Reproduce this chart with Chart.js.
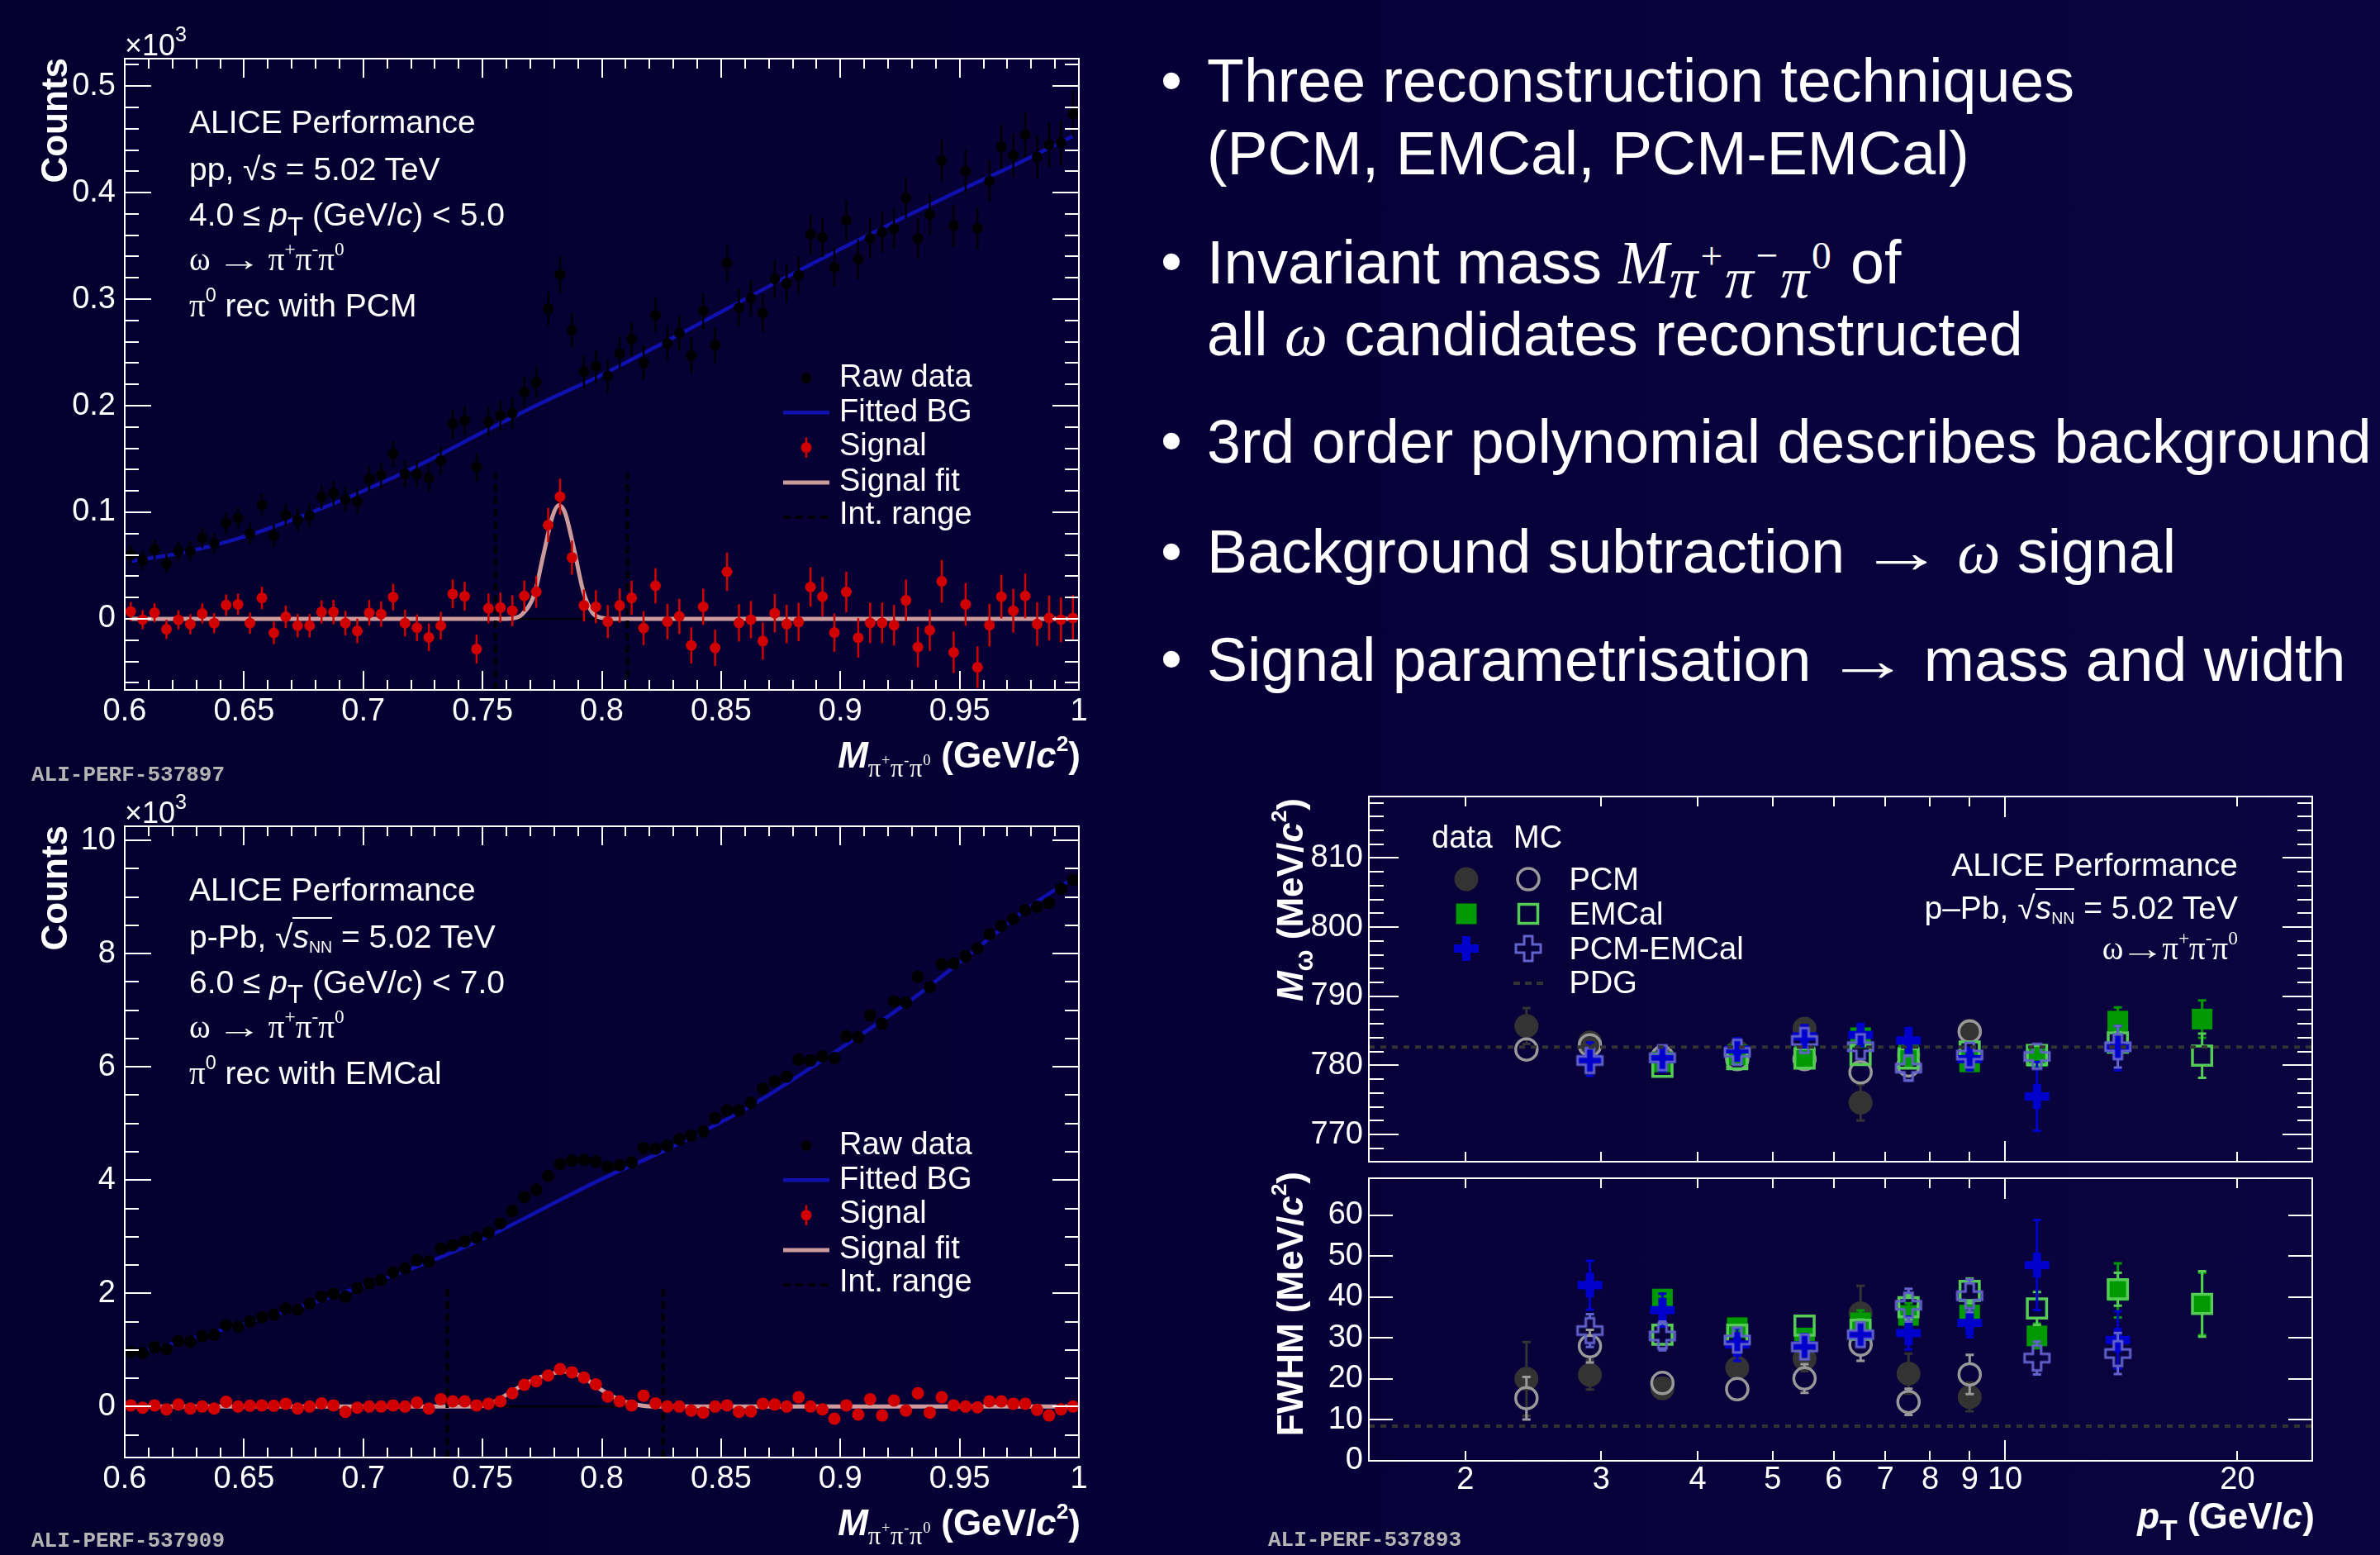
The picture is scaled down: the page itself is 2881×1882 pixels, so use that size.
<!DOCTYPE html>
<html>
<head>
<meta charset="utf-8">
<title>ALICE omega meson performance</title>
<script src="https://cdn.jsdelivr.net/npm/chart.js"></script>
<style>
html,body{margin:0;padding:0;}
body{width:2881px;height:1882px;overflow:hidden;background:#060033;}
#root{position:absolute;left:0;top:0;width:2881px;height:1882px;overflow:hidden;
 background:linear-gradient(to right,#04002e 0%,#070037 50%,#0a0440 100%);
 font-family:'Liberation Sans',Arial,Helvetica,sans-serif;color:#fff;}
.box{position:absolute;}
.t{position:absolute;white-space:nowrap;line-height:1;color:#fff;}
.sr{font-family:'Liberation Serif','Times New Roman',serif;}
.mi{font-family:'Liberation Serif','Times New Roman',serif;font-style:italic;}
.sp{font-size:0.6em;position:relative;top:-0.75em;line-height:0;font-style:normal;}
.sp3{font-size:0.7em;position:relative;top:-0.65em;line-height:0;}
.sb{font-size:0.8em;position:relative;top:0.4em;line-height:0;}
.ov{border-top:2px solid #fff;}
.nn{font-size:0.5em;position:relative;top:0.3em;line-height:0;}
.xs{font-size:0.7em;position:relative;top:0.35em;line-height:0;font-weight:normal;font-family:'Liberation Serif','Times New Roman',serif;letter-spacing:0.02em;}
.ms{font-size:0.95em;position:relative;top:0.25em;line-height:0;font-family:'Liberation Serif','Times New Roman',serif;font-style:italic;letter-spacing:0.04em;}
.ms .sp{font-size:0.68em;}
.arr{display:inline-block;transform:scaleX(1.4);margin:0 0.15em;font-family:'Liberation Serif','Times New Roman',serif;}
svg.ov2{position:absolute;left:0;top:0;}
</style>
</head>
<body>
<div id="root">
 <div class="box" style="left:0;top:0;width:1330px;height:940px"><canvas id="cPP" width="1330" height="940"></canvas></div>
 <div class="box" style="left:0;top:929px;width:1330px;height:940px"><canvas id="cPPb" width="1330" height="940"></canvas></div>
 <div class="box" style="left:1500px;top:940px;width:1381px;height:486px"><canvas id="cMass" width="1381" height="486"></canvas></div>
 <div class="box" style="left:1500px;top:1406px;width:1381px;height:476px"><canvas id="cWidth" width="1381" height="476"></canvas></div>
</div>
<script>
// ---------------- DATA ----------------
const massBins = [0.6025,0.6075,0.6125,0.6175,0.6225,0.6275,0.6325,0.6375,0.6425,0.6475,
 0.6525,0.6575,0.6625,0.6675,0.6725,0.6775,0.6825,0.6875,0.6925,0.6975,
 0.7025,0.7075,0.7125,0.7175,0.7225,0.7275,0.7325,0.7375,0.7425,0.7475,
 0.7525,0.7575,0.7625,0.7675,0.7725,0.7775,0.7825,0.7875,0.7925,0.7975,
 0.8025,0.8075,0.8125,0.8175,0.8225,0.8275,0.8325,0.8375,0.8425,0.8475,
 0.8525,0.8575,0.8625,0.8675,0.8725,0.8775,0.8825,0.8875,0.8925,0.8975,
 0.9025,0.9075,0.9125,0.9175,0.9225,0.9275,0.9325,0.9375,0.9425,0.9475,
 0.9525,0.9575,0.9625,0.9675,0.9725,0.9775,0.9825,0.9875,0.9925,0.9975];
const massTickLabels = [0.6,0.65,0.7,0.75,0.8,0.85,0.9,0.95,1];

// pp, PCM, 4 < pT < 5 (counts x 10^3)
const rawPP = [0.060,0.055,0.065,0.052,0.0635,0.0635,0.076,0.071,0.090,0.0945,
 0.080,0.107,0.078,0.0975,0.093,0.097,0.1145,0.118,0.112,0.110,
 0.1315,0.135,0.155,0.136,0.136,0.132,0.1485,0.183,0.186,0.1425,
 0.185,0.191,0.193,0.213,0.222,0.291,0.323,0.271,0.232,0.237,
 0.228,0.249,0.2625,0.2405,0.285,0.2585,0.268,0.247,0.289,0.257,
 0.334,0.292,0.301,0.287,0.319,0.315,0.3225,0.361,0.358,0.330,
 0.374,0.3375,0.357,0.363,0.366,0.395,0.357,0.3795,0.430,0.369,
 0.420,0.3665,0.411,0.443,0.435,0.4545,0.4335,0.445,0.447,0.474];
const sigPP = [0.0068,-0.0008,0.0057,-0.0098,-0.001,-0.005,0.005,-0.004,0.0129,0.0136,
 -0.004,0.0197,-0.0132,0.0019,-0.0064,-0.0064,0.0064,0.0064,-0.004,-0.0113,
 0.0057,0.0045,0.0204,-0.004,-0.0083,-0.0174,-0.0064,0.0234,0.0212,-0.0284,
 0.0098,0.0106,0.0076,0.0215,0.0253,0.088,0.1146,0.0575,0.0125,0.0113,
 -0.0026,0.0125,0.0197,-0.0087,0.031,-0.0026,0.0023,-0.025,0.0113,-0.0272,
 0.0442,-0.0038,-0.0008,-0.0208,0.0053,-0.0049,-0.003,0.0299,0.0208,-0.0129,
 0.0253,-0.0178,-0.0038,-0.0038,-0.006,0.0174,-0.0265,-0.0106,0.0352,-0.0314,
 0.0136,-0.0454,-0.006,0.0208,0.0076,0.0215,-0.0049,0.0008,-0.0008,0.0008];
const errPP = [0.009,0.009,0.009,0.009,0.009,0.0095,0.0095,0.0095,0.010,0.010,
 0.010,0.0105,0.0105,0.0105,0.011,0.011,0.011,0.0115,0.0115,0.0115,
 0.012,0.012,0.0125,0.0125,0.0125,0.013,0.013,0.0135,0.0135,0.0135,
 0.014,0.014,0.0145,0.0145,0.015,0.016,0.017,0.016,0.015,0.0155,
 0.0155,0.016,0.016,0.016,0.0165,0.0165,0.0165,0.017,0.017,0.017,
 0.018,0.0175,0.0175,0.0175,0.018,0.018,0.018,0.0185,0.0185,0.018,
 0.019,0.0185,0.019,0.019,0.019,0.0195,0.019,0.0195,0.020,0.0195,
 0.020,0.0195,0.020,0.0205,0.0205,0.021,0.0205,0.021,0.021,0.0215];
const bgPPx = [0.6025,0.625,0.65,0.675,0.7,0.725,0.75,0.775,0.8,0.825,0.85,0.875,0.9,0.925,0.95,0.975,0.9975];
const bgPPy = [0.054,0.0625,0.077,0.097,0.12,0.146,0.175,0.203,0.229,0.258,0.288,0.318,0.347,0.375,0.402,0.428,0.453];
const sfPPx = [0.6025,0.76,0.764,0.7665,0.7717,0.7755,0.7793,0.7819,0.7845,0.7883,0.7922,0.796,0.7998,0.805,0.9975];
const sfPPy = [0,0,0.001,0.004,0.023,0.06,0.096,0.1066,0.1,0.066,0.026,0.006,0.001,0,0];
const intRangePP = [0.7554,0.8107];
const intTopPP = 0.137;

// p-Pb, EMCal, 6 < pT < 7 (counts x 10^3)
const rawPPb = [0.961,0.947,1.046,1.018,1.160,1.146,1.246,1.267,1.438,1.409,
 1.502,1.573,1.623,1.730,1.708,1.822,1.943,1.993,1.943,2.093,
 2.178,2.235,2.370,2.441,2.584,2.562,2.790,2.847,2.918,2.982,
 3.075,3.238,3.452,3.701,3.829,4.071,4.285,4.349,4.356,4.327,
 4.235,4.263,4.313,4.569,4.555,4.605,4.719,4.783,4.861,5.096,
 5.231,5.231,5.367,5.616,5.744,5.829,6.128,6.114,6.185,6.157,
 6.541,6.520,6.911,6.762,7.160,7.139,7.594,7.409,7.815,7.829,
 7.950,8.093,8.342,8.491,8.612,8.769,8.826,8.897,9.146,9.302];
const sigPPb = [0.021,-0.021,0.021,-0.05,0.036,-0.036,0,-0.036,0.085,0,
 0.014,0.021,0.014,0.05,-0.036,0,0.057,0.021,-0.093,-0.021,
 0,0,0.021,0,0.071,-0.036,0.128,0.093,0.093,0.021,
 0.05,0.093,0.235,0.384,0.448,0.548,0.662,0.605,0.512,0.391,
 0.178,0.093,0.021,0.192,0.057,0,0,-0.071,-0.107,0,
 0.021,-0.093,-0.085,0.05,0.036,0,0.164,0,-0.05,-0.214,
 0.021,-0.142,0.128,-0.157,0.107,-0.071,0.235,-0.107,0.164,0.021,
 0,-0.014,0.093,0.093,0.05,0.05,-0.057,-0.157,-0.05,0];
const errPPb = [0.03,0.03,0.03,0.03,0.03,0.03,0.032,0.032,0.034,0.034,
 0.035,0.035,0.036,0.036,0.037,0.037,0.038,0.038,0.038,0.039,
 0.04,0.04,0.041,0.041,0.042,0.042,0.043,0.043,0.044,0.044,
 0.045,0.045,0.046,0.047,0.048,0.049,0.05,0.05,0.05,0.05,
 0.05,0.05,0.05,0.051,0.051,0.051,0.052,0.052,0.052,0.053,
 0.053,0.053,0.054,0.054,0.055,0.055,0.056,0.056,0.056,0.056,
 0.057,0.057,0.058,0.058,0.059,0.059,0.06,0.06,0.06,0.06,
 0.061,0.061,0.062,0.062,0.063,0.063,0.063,0.064,0.064,0.065];
const bgPPbx = [0.6025,0.6256,0.6512,0.6769,0.7025,0.7281,0.7537,0.7793,0.8,0.8282,0.8632,0.8933,0.9283,0.9534,0.9784,0.9975];
const bgPPby = [0.925,1.174,1.48,1.808,2.171,2.562,3.03,3.58,4.02,4.56,5.33,6.14,7.14,7.96,8.8,9.33];
const sfPPbx = [0.6025,0.7473,0.7537,0.7601,0.7665,0.7729,0.7793,0.7832,0.7883,0.7934,0.7986,0.8055,0.8119,0.8183,0.8247,0.9975];
const sfPPby = [0,0,0.057,0.21,0.37,0.5,0.584,0.62,0.59,0.484,0.33,0.157,0.057,0.01,0,0];
const intRangePPb = [0.7352,0.8257];
const intTopPPb = 2.08;

// omega mass and FWHM vs pT (p-Pb)
const ptBins = [2.4,2.9,3.6,4.5,5.5,6.5,7.5,9,11,14,18];
const ptTickLabels = [2,3,4,5,6,7,8,9,10,20];
const massPCMdata = [785.7,783.3,781.0,782.0,785.3,774.6,781.5,785.0,null,null,null];
const massPCMdataErr = [2.6,1.0,0.9,1.0,1.3,2.6,1.5,1.2,null,null,null];
const massPCMmc = [782.3,782.9,781.2,780.9,780.9,779.0,780.0,784.9,null,null,null];
const massPCMmcErr = [0.8,0.8,0.7,0.7,0.8,1.0,1.0,0.9,null,null,null];
const massEMCdata = [null,null,780.5,781.5,781.3,784.0,781.5,780.5,781.3,786.4,786.7];
const massEMCdataErr = [null,null,1.0,1.0,1.5,1.2,1.5,1.4,1.5,2.0,2.7];
const massEMCmc = [null,null,779.8,780.9,781.0,781.5,781.0,782.0,781.5,783.3,781.4];
const massEMCmcErr = [null,null,0.8,0.8,0.9,1.0,1.2,1.2,1.3,1.5,3.2];
const massPEdata = [null,780.9,780.9,782.3,784.2,784.4,783.6,780.9,775.5,782.5,null];
const massPEdataErr = [null,2.4,1.8,1.7,1.6,1.5,1.8,1.6,5.0,3.2,null];
const massPEmc = [null,780.7,781.1,781.9,783.6,782.7,779.6,781.5,781.3,782.7,null];
const massPEmcErr = [null,1.5,1.3,1.2,1.3,1.3,1.8,1.5,1.5,3.0,null];
const fwhmPCMdata = [20.0,21.0,17.7,22.7,24.9,36.0,21.3,15.6,null,null,null];
const fwhmPCMdataErr = [9.0,3.6,1.5,2.0,3.0,6.7,4.9,3.5,null,null,null];
const fwhmPCMmc = [15.3,28.0,19.0,17.5,20.1,28.4,14.4,21.1,null,null,null];
const fwhmPCMmcErr = [5.2,4.0,1.5,1.5,3.5,4.0,3.2,4.8,null,null,null];
const fwhmEMCdata = [null,null,39.5,32.5,30.0,33.7,35.5,35.6,30.5,41.6,38.3];
const fwhmEMCdataErr = [null,null,2.0,2.0,2.0,3.0,3.0,3.0,3.0,6.6,7.6];
const fwhmEMCmc = [null,null,30.8,30.8,33.0,32.0,37.5,41.5,37.2,41.9,38.3];
const fwhmEMCmcErr = [null,null,2.0,2.0,2.0,2.5,3.0,3.0,4.0,4.0,8.0];
const fwhmPEdata = [null,42.9,36.8,28.4,28.2,30.8,31.2,33.7,47.8,29.5,null];
const fwhmPEdataErr = [null,6.0,4.0,4.0,3.0,3.0,4.0,3.5,11.0,7.0,null];
const fwhmPEmc = [null,31.8,30.5,29.5,27.8,30.8,38.0,40.3,25.1,26.2,null];
const fwhmPEmcErr = [null,4.0,3.5,3.0,3.0,3.0,4.0,4.0,4.0,5.0,null];
const pdgMass = 782.65;
const pdgWidth = 8.49;

// ---------------- STYLE ----------------
const FONT = "'Liberation Sans', Arial, sans-serif";
const RED = '#d00000', PINK = '#cc9a9a', BLUE = '#1010b0';
const C_PCM = '#333333', C_PCMmc = '#999999', C_EMC = '#009900', C_EMCmc = '#55cc55', C_PE = '#0000cc', C_PEmc = '#6262cc';

function range(a, b, s) { const o = []; for (let v = a; v <= b + 1e-9; v += s) o.push(+v.toFixed(4)); return o; }
const fmt = v => String(+(+v).toFixed(3));

// ---------------- PLUGINS ----------------
const rootFrame = {
  id: 'rootFrame',
  afterDraw(chart, args, o) {
    const ctx = chart.ctx, a = chart.chartArea, xs = chart.scales.x, ys = chart.scales.y;
    ctx.save();
    ctx.strokeStyle = '#ffffff'; ctx.lineWidth = 2;
    const seg = (x1, y1, x2, y2) => { ctx.beginPath(); ctx.moveTo(x1, y1); ctx.lineTo(x2, y2); ctx.stroke(); };
    const xt = (vals, len) => (vals || []).forEach(v => { const p = Math.round(xs.getPixelForValue(v)); seg(p, a.bottom, p, a.bottom - len); seg(p, a.top, p, a.top + len); });
    const yt = (vals, len) => (vals || []).forEach(v => { const p = Math.round(ys.getPixelForValue(v)); seg(a.left, p, a.left + len, p); seg(a.right, p, a.right - len, p); });
    xt(o.xMinor, o.xMinLen); xt(o.xMajor, o.xMajLen);
    yt(o.yMinor, o.yMinLen); yt(o.yMajor, o.yMajLen);
    ctx.strokeRect(a.left, a.top, a.right - a.left, a.bottom - a.top);
    ctx.restore();
  }
};
const errBars = {
  id: 'errBars',
  beforeDatasetDraw(chart, args) {
    const ds = chart.data.datasets[args.index];
    if (!ds.errColor) return;
    const meta = args.meta, ys = chart.scales[meta.yAxisID], a = chart.chartArea, ctx = chart.ctx;
    const gap = ds.errGap || 0;
    ctx.save();
    ctx.beginPath(); ctx.rect(a.left, a.top, a.right - a.left, a.bottom - a.top); ctx.clip();
    ctx.strokeStyle = ds.errColor; ctx.lineWidth = ds.errWidth || 2;
    meta.data.forEach((el, i) => {
      const d = ds.data[i]; if (!d || d.e == null) return;
      const y1 = ys.getPixelForValue(d.y - d.e), y2 = ys.getPixelForValue(d.y + d.e);
      ctx.beginPath();
      if (gap > 0) {
        if (y1 > el.y + gap) { ctx.moveTo(el.x, y1); ctx.lineTo(el.x, el.y + gap); }
        if (y2 < el.y - gap) { ctx.moveTo(el.x, y2); ctx.lineTo(el.x, el.y - gap); }
      } else { ctx.moveTo(el.x, y1); ctx.lineTo(el.x, y2); }
      if (ds.errCap) {
        if (y1 > el.y + gap) { ctx.moveTo(el.x - ds.errCap, y1); ctx.lineTo(el.x + ds.errCap, y1); }
        if (y2 < el.y - gap) { ctx.moveTo(el.x - ds.errCap, y2); ctx.lineTo(el.x + ds.errCap, y2); }
      }
      ctx.stroke();
    });
    ctx.restore();
  }
};

// ---------------- MASS SPECTRA ----------------
function massChart(id, c) {
  const pts = (ys, es) => massBins.map((x, i) => ({ x, y: ys[i], e: es[i] }));
  const line = (xs, ys) => xs.map((x, i) => ({ x, y: ys[i] }));
  const vline = (x) => [{ x, y: c.yMin }, { x, y: c.intTop }];
  return new Chart(document.getElementById(id), {
    type: 'scatter',
    data: { datasets: [
      { label: 'Signal', data: pts(c.sig, c.err), pointRadius: c.r, pointBackgroundColor: RED, pointBorderColor: RED, pointBorderWidth: 0, errColor: RED, errWidth: 2.5, order: 1 },
      { label: 'Raw data', data: pts(c.raw, c.err), pointRadius: c.r, pointBackgroundColor: '#000', pointBorderColor: '#000', pointBorderWidth: 0, errColor: '#000', errWidth: 2.5, order: 2 },
      { label: 'Int. range', data: vline(c.int[0]), showLine: true, pointRadius: 0, borderColor: '#000', borderWidth: 4, borderDash: [9, 6], order: 3 },
      { label: 'Int. range 2', data: vline(c.int[1]), showLine: true, pointRadius: 0, borderColor: '#000', borderWidth: 4, borderDash: [9, 6], order: 3 },
      { label: 'Signal fit', data: line(c.sfx, c.sfy), showLine: true, pointRadius: 0, borderColor: PINK, borderWidth: 5, cubicInterpolationMode: 'monotone', order: 4 },
      { label: 'zero', data: [{ x: 0.6, y: 0 }, { x: 1, y: 0 }], showLine: true, pointRadius: 0, borderColor: '#000', borderWidth: 2, order: 5 },
      { label: 'Fitted BG', data: line(c.bgx, c.bgy), showLine: true, pointRadius: 0, borderColor: BLUE, borderWidth: 4.5, cubicInterpolationMode: 'monotone', order: 6 }
    ]},
    options: {
      responsive: false, animation: false, devicePixelRatio: 1,
      layout: { padding: { top: 71, right: 24, left: 0, bottom: 0 } },
      plugins: { legend: { display: false }, tooltip: { enabled: false },
        rootFrame: { xMajor: massTickLabels, xMinor: range(0.6, 1, 0.01), xMajLen: 23, xMinLen: 12,
                     yMajor: c.yMajor, yMinor: c.yMinor, yMajLen: 32, yMinLen: 17 } },
      scales: {
        x: { type: 'linear', min: 0.6, max: 1, bounds: 'data',
             grid: { display: false, drawTicks: false }, border: { display: false },
             ticks: { color: '#fff', font: { family: FONT, size: 38, lineHeight: 1.2 }, padding: 4, autoSkip: false, maxRotation: 0, minRotation: 0, callback: v => fmt(v) },
             afterBuildTicks: s => { s.ticks = massTickLabels.map(v => ({ value: v })); },
             afterFit: s => { s.height = 105; s.paddingLeft = 0; s.paddingRight = 0; } },
        y: { type: 'linear', min: c.yMin, max: c.yMax, bounds: 'data',
             grid: { display: false, drawTicks: false }, border: { display: false },
             ticks: { color: '#fff', font: { family: FONT, size: 38, lineHeight: 1.2 }, padding: 11, autoSkip: false, callback: v => fmt(v) },
             afterBuildTicks: s => { s.ticks = c.yMajor.map(v => ({ value: v })); },
             afterFit: s => { s.width = 151; s.paddingTop = 0; s.paddingBottom = 0; } }
      }
    },
    plugins: [rootFrame, errBars]
  });
}
massChart('cPP', { raw: rawPP, sig: sigPP, err: errPP, bgx: bgPPx, bgy: bgPPy, sfx: sfPPx, sfy: sfPPy,
  int: intRangePP, intTop: intTopPP, yMin: -0.0667, yMax: 0.5257, r: 6.5,
  yMajor: [0, 0.1, 0.2, 0.3, 0.4, 0.5], yMinor: range(-0.06, 0.52, 0.02) });
massChart('cPPb', { raw: rawPPb, sig: sigPPb, err: errPPb, bgx: bgPPbx, bgy: bgPPby, sfx: sfPPbx, sfy: sfPPby,
  int: intRangePPb, intTop: intTopPPb, yMin: -0.9, yMax: 10.25, r: 7.5,
  yMajor: [0, 2, 4, 6, 8, 10], yMinor: range(-0.5, 10, 0.5) });

// ---------------- MASS / WIDTH vs pT ----------------
function crossCanvas(fill, stroke) {
  const s = 36, c = document.createElement('canvas'); c.width = s; c.height = s;
  const g = c.getContext('2d'), h = 15, w = 5, o = s / 2;
  const P = [[-w,-h],[w,-h],[w,-w],[h,-w],[h,w],[w,w],[w,h],[-w,h],[-w,w],[-h,w],[-h,-w],[-w,-w]];
  g.beginPath(); P.forEach(([x, y], i) => i ? g.lineTo(o + x, o + y) : g.moveTo(o + x, o + y)); g.closePath();
  if (fill) { g.fillStyle = fill; g.fill(); }
  if (stroke) { g.strokeStyle = stroke; g.lineWidth = 3; g.stroke(); }
  return c;
}
const crossFilled = crossCanvas(C_PE, null), crossOpen = crossCanvas(null, C_PEmc);

function ser(label, ys, es, st) {
  return Object.assign({ label, data: ptBins.map((x, i) => ({ x, y: ys[i], e: es[i] })).filter(p => p.y != null) }, st);
}
const stPCM = { pointStyle: 'circle', pointRadius: 14.5, pointBackgroundColor: C_PCM, pointBorderColor: C_PCM, pointBorderWidth: 0, errColor: C_PCM, errWidth: 3, errCap: 5, errGap: 14, order: 6 };
const stPCMmc = { pointStyle: 'circle', pointRadius: 13, pointBackgroundColor: 'rgba(0,0,0,0)', pointBorderColor: C_PCMmc, pointBorderWidth: 3.5, errColor: C_PCMmc, errWidth: 3, errCap: 5, errGap: 14, order: 5 };
const stEMC = { pointStyle: 'rect', pointRadius: 17.7, pointBackgroundColor: C_EMC, pointBorderColor: C_EMC, pointBorderWidth: 0, errColor: C_EMC, errWidth: 3, errCap: 5, errGap: 12, order: 4 };
const stEMCmc = { pointStyle: 'rect', pointRadius: 16.5, pointBackgroundColor: 'rgba(0,0,0,0)', pointBorderColor: C_EMCmc, pointBorderWidth: 3.5, errColor: C_EMCmc, errWidth: 3, errCap: 5, errGap: 12, order: 3 };
const stPE = { pointStyle: crossFilled, pointRadius: 15, errColor: C_PE, errWidth: 3, errCap: 5, errGap: 15, order: 2 };
const stPEmc = { pointStyle: crossOpen, pointRadius: 15, errColor: C_PEmc, errWidth: 3, errCap: 5, errGap: 15, order: 1 };

function ptChart(id, c) {
  return new Chart(document.getElementById(id), {
    type: 'scatter',
    data: { datasets: [
      { label: 'PDG', data: [{ x: 1.5, y: c.pdg }, { x: 25, y: c.pdg }], showLine: true, pointRadius: 0, borderColor: '#333333', borderWidth: 4, borderDash: [7, 7], order: 0 },
      ser('PCM data', c.s[0], c.e[0], stPCM),
      ser('PCM MC', c.s[1], c.e[1], stPCMmc),
      ser('EMCal data', c.s[2], c.e[2], stEMC),
      ser('EMCal MC', c.s[3], c.e[3], stEMCmc),
      ser('PCM-EMCal data', c.s[4], c.e[4], stPE),
      ser('PCM-EMCal MC', c.s[5], c.e[5], stPEmc)
    ]},
    options: {
      responsive: false, animation: false, devicePixelRatio: 1,
      layout: { padding: { top: c.padTop, right: 82, left: 0, bottom: c.padBottom } },
      plugins: { legend: { display: false }, tooltip: { enabled: false },
        rootFrame: { xMajor: [10], xMinor: [2, 3, 4, 5, 6, 7, 8, 9, 20], xMajLen: 25, xMinLen: 12,
                     yMajor: c.yMajor, yMinor: c.yMinor, yMajLen: c.yMajLen, yMinLen: 18 } },
      scales: {
        x: { type: 'logarithmic', min: 1.5, max: 25, bounds: 'data', display: c.showX,
             grid: { display: false, drawTicks: false }, border: { display: false },
             ticks: { color: '#fff', font: { family: FONT, size: 38, lineHeight: 1.2 }, padding: 1, autoSkip: false, maxRotation: 0, minRotation: 0, callback: v => String(v) },
             afterBuildTicks: s => { s.ticks = ptTickLabels.map(v => ({ value: v })); },
             afterFit: s => { s.height = c.showX ? 114 : 0; s.paddingLeft = 0; s.paddingRight = 0; } },
        y: { type: 'linear', min: c.yMin, max: c.yMax, bounds: 'data',
             grid: { display: false, drawTicks: false }, border: { display: false },
             ticks: { color: '#fff', font: { family: FONT, size: 38, lineHeight: 1.2 }, padding: 7, autoSkip: false, callback: v => fmt(v) },
             afterBuildTicks: s => { s.ticks = c.yMajor.map(v => ({ value: v })); },
             afterFit: s => { s.width = 157; s.paddingTop = 0; s.paddingBottom = 0; } }
      }
    },
    plugins: [rootFrame, errBars]
  });
}
ptChart('cMass', { pdg: pdgMass, yMin: 766.06, yMax: 818.9, padTop: 24, padBottom: 10, showX: false,
  yMajor: [770, 780, 790, 800, 810], yMinor: range(768, 818, 2), yMajLen: 36,
  s: [massPCMdata, massPCMmc, massEMCdata, massEMCmc, massPEdata, massPEmc],
  e: [massPCMdataErr, massPCMmcErr, massEMCdataErr, massEMCmcErr, massPEdataErr, massPEmcErr] });
ptChart('cWidth', { pdg: pdgWidth, yMin: 0, yMax: 69, padTop: 10, padBottom: 0, showX: true,
  yMajor: [0, 10, 20, 30, 40, 50, 60], yMinor: [], yMajLen: 29,
  s: [fwhmPCMdata, fwhmPCMmc, fwhmEMCdata, fwhmEMCmc, fwhmPEdata, fwhmPEmc],
  e: [fwhmPCMdataErr, fwhmPCMmcErr, fwhmEMCdataErr, fwhmEMCmcErr, fwhmPEdataErr, fwhmPEmcErr] });

// ---------------- TEXT ----------------
const root = document.getElementById('root');
function put(html, x, base, fs, o = {}) {
  const d = document.createElement('div'); d.className = 't';
  d.style.fontSize = fs + 'px'; d.innerHTML = html;
  d.style.top = (base - (o.asc || 0.8465) * fs) + 'px';
  if (o.right) d.style.right = (2881 - x) + 'px'; else d.style.left = x + 'px';
  if (o.bold) d.style.fontWeight = 'bold';
  if (o.font) d.style.fontFamily = o.font;
  if (o.color) d.style.color = o.color;
  root.appendChild(d); return d;
}
function putRot(html, xBase, yEnd, len, fs) {
  const d = document.createElement('div'); d.className = 't'; d.style.fontSize = fs + 'px'; d.innerHTML = html;
  d.style.left = (xBase - 0.8465 * fs) + 'px'; d.style.top = (yEnd + len) + 'px'; d.style.width = len + 'px';
  d.style.textAlign = 'right'; d.style.transformOrigin = '0 0'; d.style.transform = 'rotate(-90deg)'; d.style.fontWeight = 'bold';
  root.appendChild(d);
}
const MONO = "'Liberation Mono','Courier New',monospace";
const AFS = 39;
const decay = '<span class="sr">ω <span class="arr">→</span> π<span class="sp">+</span>π<span class="sp">-</span>π<span class="sp">0</span></span>';
const xTitle = '<i>M</i><span class="xs">π<span class="sp">+</span>π<span class="sp">-</span>π<span class="sp">0</span></span> (GeV/<i>c</i><span class="sp">2</span>)';

[[0, 'pp, √<i>s</i> = 5.02 TeV', '4.0 ≤ <i>p</i><span class="sb">T</span> (GeV/<i>c</i>) &lt; 5.0', 'PCM', 'ALI-PERF-537897'],
 [929, 'p-Pb, √<span class="ov"><i>s</i><span class="nn">NN</span></span> = 5.02 TeV', '6.0 ≤ <i>p</i><span class="sb">T</span> (GeV/<i>c</i>) &lt; 7.0', 'EMCal', 'ALI-PERF-537909']
].forEach(([dy, sys, pt, meth, ali]) => {
  put('×10<span class="sp3">3</span>', 151, 67 + dy, 36);
  putRot('Counts', 81, 70 + dy, 220, 44);
  put(xTitle, 1308, 929 + dy, 44, { right: true, bold: true });
  put(ali, 38, 945 + dy - (dy ? 2 : 0), 26, { font: MONO, bold: true, color: '#b4b4b4', asc: 0.7665 });
  put('ALICE Performance', 229, 161 + dy, AFS);
  put(sys, 229, 218 + dy, AFS);
  put(pt, 229, 273 + dy, AFS);
  put(decay, 229, 327 + dy, AFS);
  put('<span class="sr">π</span><span class="sp">0</span> rec with ' + meth, 229, 383 + dy, AFS);
  const lg = [['Raw data', 468.6], ['Fitted BG', 510], ['Signal', 551.5], ['Signal fit', 594], ['Int. range', 634.4]];
  lg.forEach(([t, b]) => put(t, 1016, b + dy, 38));
});

// right chart texts
put('ALICE Performance', 2709, 1060, AFS, { right: true });
put('p–Pb, √<span class="ov"><i>s</i><span class="nn">NN</span></span> = 5.02 TeV', 2709, 1112, AFS, { right: true });
put('<span class="sr">ω<span class="arr" style="margin:0 0.1em">→</span>π<span class="sp">+</span>π<span class="sp">-</span>π<span class="sp">0</span></span>', 2709, 1161, AFS, { right: true });
put('data', 1733, 1025.7, 38); put('MC', 1832, 1025.7, 38);
put('PCM', 1899.5, 1076.7, 38); put('EMCal', 1899.5, 1119, 38); put('PCM-EMCal', 1899.5, 1160.7, 38); put('PDG', 1899.5, 1202, 38);
putRot('<i>M</i><span class="sb" style="font-size:0.7em">ω</span> (MeV/<i>c</i><span class="sp">2</span>)', 1577, 966, 300, 44);
putRot('FWHM (MeV/<i>c</i><span class="sp">2</span>)', 1577, 1418, 340, 44);
put('<i>p</i><span class="sb">T</span> (GeV/<i>c</i>)', 2802, 1850, 44, { right: true, bold: true });
put('ALI-PERF-537893', 1535, 1871, 26, { font: MONO, bold: true, color: '#b4b4b4', asc: 0.7665 });

// bullets
const bl = [
  [true, 'Three reconstruction techniques', 123.4],
  [false, '(PCM, EMCal, PCM-EMCal)', 211],
  [true, 'Invariant mass <span class="mi">M</span><span class="ms">π<span class="sp">+</span>π<span class="sp">−</span>π<span class="sp">0</span></span>&nbsp;of', 343],
  [false, 'all <span class="mi">ω</span> candidates reconstructed', 430.5],
  [true, '3rd order polynomial describes background', 560],
  [true, 'Background subtraction <span class="arr">→</span> <span class="mi">ω</span> signal', 693.5],
  [true, 'Signal parametrisation <span class="arr">→</span> mass and width', 824]
];
bl.forEach(([b, t, y]) => { if (b) put('•', 1405, y, 74); put(t, 1461, y, 73.5); });

// legend symbols
let svg = '<svg class="ov2" width="2881" height="1882" xmlns="http://www.w3.org/2000/svg">';
[0, 929].forEach(dy => {
  svg += `<circle cx="976" cy="${457.3 + dy}" r="6.5" fill="#000"/>`;
  svg += `<line x1="948" x2="1004" y1="${499.3 + dy}" y2="${499.3 + dy}" stroke="${BLUE}" stroke-width="4.5"/>`;
  svg += `<line x1="976" x2="976" y1="${529.5 + dy}" y2="${554 + dy}" stroke="${RED}" stroke-width="2.5"/><circle cx="976" cy="${541.7 + dy}" r="6.5" fill="${RED}"/>`;
  svg += `<line x1="948" x2="1004" y1="${584 + dy}" y2="${584 + dy}" stroke="${PINK}" stroke-width="5"/>`;
  svg += `<line x1="948" x2="1004" y1="${626 + dy}" y2="${626 + dy}" stroke="#000" stroke-width="4" stroke-dasharray="9 6"/>`;
});
const crossPath = (cx, cy) => { const h = 15, w = 5; return [[-w,-h],[w,-h],[w,-w],[h,-w],[h,w],[w,w],[w,h],[-w,h],[-w,w],[-h,w],[-h,-w],[-w,-w]].map(([x, y]) => (cx + x) + ',' + (cy + y)).join(' '); };
svg += `<circle cx="1775" cy="1064" r="14.5" fill="${C_PCM}"/>`;
svg += `<circle cx="1850" cy="1064" r="13" fill="none" stroke="${C_PCMmc}" stroke-width="3.5"/>`;
svg += `<rect x="1762.5" y="1093.5" width="25" height="25" fill="${C_EMC}"/>`;
svg += `<rect x="1838.5" y="1094.5" width="23" height="23" fill="none" stroke="${C_EMCmc}" stroke-width="3.5"/>`;
svg += `<polygon points="${crossPath(1775, 1148)}" fill="${C_PE}"/>`;
svg += `<polygon points="${crossPath(1850, 1148)}" fill="none" stroke="${C_PEmc}" stroke-width="3"/>`;
svg += `<line x1="1832" x2="1868" y1="1190" y2="1190" stroke="#333" stroke-width="4" stroke-dasharray="8 6"/>`;
svg += '</svg>';
root.insertAdjacentHTML('beforeend', svg);
</script>
</body>
</html>
